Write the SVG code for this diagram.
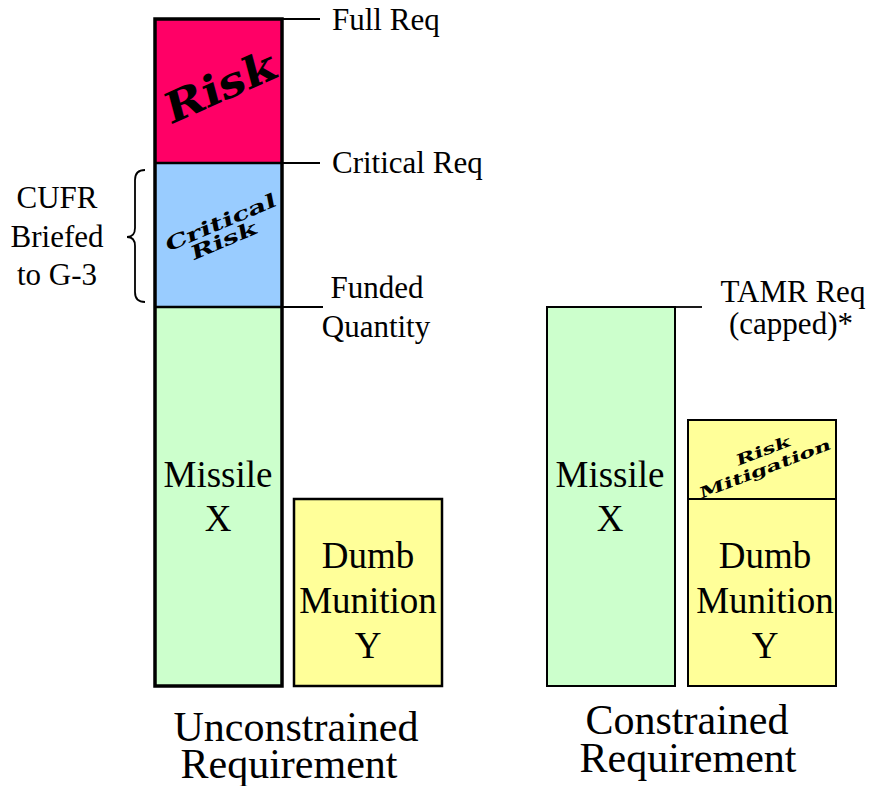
<svg xmlns="http://www.w3.org/2000/svg" width="870" height="786" viewBox="0 0 870 786">
<style>
.lbl{font-size:31px}
.big{font-size:37px;text-anchor:middle}
.cap{font-size:42px;text-anchor:middle}
.wa{font-family:"DejaVu Serif",serif;font-weight:bold;text-anchor:middle}
.thin{stroke:#000;stroke-width:2.5}
.lead{stroke:#000;stroke-width:1.8;fill:none}
</style>
<rect width="870" height="786" fill="#fff"/>
<g font-family="Liberation Serif, Times New Roman, serif" fill="#000">
<g id="risk">
<rect x="155" y="19" width="127" height="144" fill="#FF0066"/>
<text class="wa" font-size="42" transform="translate(224,101) rotate(-24) scale(1.14,1) skewX(-8)">Risk</text>
</g>
<g id="critical-risk">
<rect x="155" y="163" width="127" height="144" fill="#99CCFF"/>
<text class="wa" font-size="19" transform="translate(222,229) rotate(-23) scale(1.5,1) skewX(-8)">Critical</text>
<text class="wa" font-size="19" transform="translate(225,247) rotate(-23) scale(1.5,1) skewX(-8)">Risk</text>
</g>
<g id="missile-x-unconstrained">
<rect x="155" y="307" width="127" height="379" fill="#CCFFCC"/>
<text class="big"><tspan x="218" y="487">Missile</tspan><tspan x="218" y="531">X</tspan></text>
</g>
<g id="column-outline">
<rect x="155" y="19" width="127" height="667" fill="none" stroke="#000" stroke-width="3.5"/>
<line class="thin" x1="155" y1="163" x2="282" y2="163"/>
<line class="thin" x1="155" y1="307" x2="282" y2="307"/>
</g>
<g id="dumb-munition-y-unconstrained">
<rect x="294" y="499" width="148" height="187" fill="#FFFF99" stroke="#000" stroke-width="2.5"/>
<text class="big"><tspan x="368" y="568">Dumb</tspan><tspan x="368" y="613">Munition</tspan><tspan x="368" y="658">Y</tspan></text>
</g>
<g id="missile-x-constrained">
<rect x="547" y="307" width="128" height="379" fill="#CCFFCC" stroke="#000" stroke-width="2"/>
<text class="big"><tspan x="610" y="487">Missile</tspan><tspan x="610" y="531">X</tspan></text>
</g>
<g id="risk-mitigation">
<rect x="688" y="420" width="148" height="79" fill="#FFFF99" stroke="#000" stroke-width="2"/>
<text class="wa" font-size="15" transform="translate(764,456) rotate(-21) scale(1.55,1) skewX(-8)">Risk</text>
<text class="wa" font-size="15" transform="translate(766,474) rotate(-21) scale(1.58,1) skewX(-8)">Mitigation</text>
</g>
<g id="dumb-munition-y-constrained">
<rect x="688" y="499" width="148" height="187" fill="#FFFF99" stroke="#000" stroke-width="2"/>
<text class="big"><tspan x="765" y="568">Dumb</tspan><tspan x="765" y="613">Munition</tspan><tspan x="765" y="658">Y</tspan></text>
</g>
<g id="connectors">
<line class="lead" x1="282" y1="19" x2="320" y2="19"/>
<line class="lead" x1="282" y1="163" x2="320" y2="163"/>
<line class="lead" x1="282" y1="307" x2="323" y2="307"/>
<line class="lead" x1="675" y1="307" x2="702" y2="307"/>
<path class="lead" d="M145,170 Q135,170 135,180 L135,228 Q135,237 127,237 Q135,237 135,246 L135,292 Q135,302 145,302" stroke-width="1.5"/>
</g>
<g id="labels">
<text class="lbl" x="332" y="30">Full Req</text>
<text class="lbl" x="332" y="173">Critical Req</text>
<text class="lbl" text-anchor="middle"><tspan x="377" y="298">Funded</tspan><tspan x="376" y="337">Quantity</tspan></text>
<text class="lbl" text-anchor="middle"><tspan x="793" y="302">TAMR Req</tspan><tspan x="791" y="334">(capped)*</tspan></text>
<text class="lbl" text-anchor="middle"><tspan x="57" y="208">CUFR</tspan><tspan x="57" y="247">Briefed</tspan><tspan x="57" y="285">to G-3</tspan></text>
<text class="cap"><tspan x="296" y="741">Unconstrained</tspan><tspan x="289" y="778">Requirement</tspan></text>
<text class="cap"><tspan x="687" y="734">Constrained</tspan><tspan x="688" y="772">Requirement</tspan></text>
</g>
</g>
</svg>
